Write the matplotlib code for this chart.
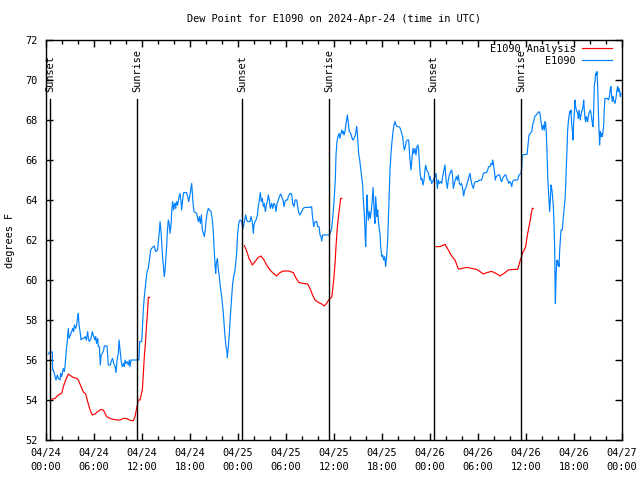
import numpy as np
import pandas as pd
import matplotlib
matplotlib.use('Agg')
import matplotlib.pyplot as plt
import matplotlib.dates as mdates
import matplotlib.transforms as mtransforms

# Hours since 2024-04-24 00:00 UTC and dew point (F)
blue_hours = [
    0.29, 0.46, 0.79, 0.83, 0.92, 1.13, 1.25, 1.42, 1.54, 1.75, 1.83, 1.96, 2.17, 2.29, 2.38, 2.5,
    2.67, 2.79, 2.88, 3.04, 3.21, 3.33, 3.46, 3.54, 3.71, 3.83, 3.96, 4.04, 4.13, 4.29, 4.38, 4.54,
    4.71, 4.88, 5.04, 5.21, 5.29, 5.42, 5.63, 5.79, 5.96, 6.13, 6.21, 6.33, 6.46, 6.54, 6.67, 6.79,
    6.88, 7.04, 7.21, 7.29, 7.63, 7.79, 8.04, 8.21, 8.33, 8.46, 8.63, 8.75, 8.88, 9.04, 9.13, 9.25,
    9.38, 9.54, 9.71, 9.79, 9.88, 10.0, 10.13, 10.29, 10.42, 10.5, 10.63, 10.83, 11.0, 11.625,
    11.71, 11.96, 12.04, 12.15, 12.29, 12.46, 12.63, 12.79, 12.92, 13.08, 13.21, 13.42, 13.54, 13.71,
    13.96, 14.04, 14.17, 14.25, 14.38, 14.54, 14.71, 14.79, 14.88, 14.96, 15.08, 15.17, 15.29, 15.42,
    15.5, 15.63, 15.71, 15.83, 15.96, 16.04, 16.13, 16.21, 16.33, 16.46, 16.63, 16.75, 16.88, 16.96,
    17.08, 17.21, 17.58, 17.71, 17.83, 17.96, 18.08, 18.21, 18.29, 18.38, 18.5, 18.83, 19.04, 19.17,
    19.29, 19.42, 19.54, 19.67, 19.79, 19.88, 20.0, 20.13, 20.29, 20.42, 20.63, 20.79, 20.92, 21.0,
    21.13, 21.21, 21.29, 21.42, 21.54, 21.67, 21.79, 21.96, 22.13, 22.25, 22.38, 22.5, 22.63, 22.67,
    22.79, 22.92, 23.04, 23.21, 23.33, 23.46, 23.63, 23.83, 23.96, 24.13, 24.29, 24.46, 24.63, 24.79,
    24.96, 25.08, 25.21, 25.5, 25.63, 25.79, 25.92, 26.0, 26.13, 26.25, 26.42, 26.54, 26.67, 26.79,
    26.92, 27.04, 27.17, 27.29, 27.42, 27.54, 27.67, 27.79, 27.92, 28.04, 28.21, 28.33, 28.5, 28.63,
    28.75, 28.88, 29.04, 29.17, 29.33, 29.46, 29.63, 29.75, 29.88, 30.0, 30.17, 30.29, 30.5, 30.71,
    30.83, 31.0, 31.13, 31.33, 31.46, 31.63, 31.75, 31.96, 32.13, 32.38, 33.0, 33.21, 33.29, 33.38,
    33.46, 33.63, 33.83, 33.96, 34.13, 34.25, 34.38, 34.46, 34.58, 35.42, 35.5, 35.71, 35.92, 36.04,
    36.17, 36.25, 36.375, 36.5, 36.625, 36.75, 36.875, 37.0, 37.08, 37.17, 37.25, 37.375, 37.5, 37.58,
    37.67, 37.75, 37.83, 37.92, 38.08, 38.21, 38.33, 38.5, 38.67, 38.75, 38.83, 38.92, 39.0, 39.08,
    39.21, 39.33, 39.46, 39.58, 39.67, 39.79, 39.875, 39.96, 40.04, 40.13, 40.21, 40.29, 40.42, 40.54,
    40.67, 40.79, 40.875, 40.96, 41.04, 41.125, 41.21, 41.29, 41.375, 41.46, 41.54, 41.67, 41.75, 41.83,
    41.92, 42.0, 42.08, 42.21, 42.33, 42.46, 42.58, 42.71, 42.83, 42.92, 43.0, 43.125, 43.25, 43.375,
    43.5, 43.625, 43.75, 43.875, 44.04, 44.21, 44.33, 44.46, 44.58, 44.67, 44.79, 44.92, 45.04, 45.17,
    45.33, 45.42, 45.5, 45.625, 45.75, 45.875, 46.0, 46.125, 46.25, 46.375, 46.5, 46.58, 46.67, 46.75,
    46.875, 47.0, 47.125, 47.25, 47.375, 47.46, 47.58, 47.71, 47.83, 47.96, 48.0, 48.21, 48.42, 48.625,
    48.75, 48.92, 49.04, 49.17, 49.33, 49.46, 49.58, 49.75, 49.875, 50.0, 50.17, 50.29, 50.42, 50.58,
    50.71, 50.83, 50.92, 51.04, 51.17, 51.29, 51.42, 51.54, 51.67, 51.79, 51.92, 52.04, 52.125, 52.21,
    52.33, 52.46, 52.58, 52.75, 52.875, 53.0, 53.125, 53.25, 53.42, 53.54, 53.67, 53.83, 53.96, 54.08,
    54.25, 54.46, 54.67, 54.875, 55.08, 55.21, 55.33, 55.5, 55.625, 55.75, 55.83, 55.92, 56.0, 56.08,
    56.17, 56.25, 56.33, 56.46, 56.58, 56.71, 56.83, 56.96, 57.08, 57.21, 57.375, 57.5, 57.58, 57.71,
    57.83, 58.0, 58.125, 58.21, 58.33, 58.5, 58.625, 58.96, 59.125, 59.375, 59.46, 59.54, 59.875, 60.125,
    60.21, 60.375, 60.54, 60.71, 60.875, 60.96, 61.125, 61.29, 61.46, 61.625, 61.75, 61.875, 62.04, 62.17,
    62.29, 62.375, 62.46, 62.54, 62.625, 62.71, 62.79, 62.875, 62.96, 63.04, 63.125, 63.21, 63.29, 63.42,
    63.5, 63.58, 63.625, 63.67, 63.71, 63.79, 63.875, 63.96, 64.04, 64.125, 64.21, 64.29, 64.375, 64.54,
    64.67, 64.79, 64.875, 64.96, 65.04, 65.125, 65.21, 65.29, 65.375, 65.46, 65.54, 65.625, 65.71, 65.79,
    65.875, 65.96, 66.04, 66.125, 66.21, 66.29, 66.375, 66.46, 66.54, 66.625, 66.71, 66.79, 66.875, 66.96,
    67.04, 67.125, 67.21, 67.29, 67.375, 67.46, 67.54, 67.625, 67.71, 67.79, 67.875, 67.96, 68.04, 68.125,
    68.21, 68.29, 68.375, 68.46, 68.54, 68.625, 68.71, 68.79, 68.875, 68.96, 69.04, 69.125, 69.21, 69.29,
    69.375, 69.46, 69.54, 69.625, 69.71, 69.79, 69.875, 70.04, 70.21, 70.29, 70.375, 70.46, 70.54, 70.625,
    70.71, 70.79, 70.875, 70.96, 71.04, 71.125, 71.21, 71.29, 71.375, 71.46, 71.54, 71.625, 71.71, 71.79,
    71.875,
]
blue_vals = [
    56.3, 56.4, 56.4, 55.5, 55.5, 55.17, 55.0, 55.25, 55.08, 55.0, 55.33, 55.17, 55.58, 55.42, 55.67, 56.33,
    57.0, 57.58, 57.08, 57.25, 57.42, 57.58, 57.42, 57.75, 57.58, 57.75, 58.17, 58.33, 57.75, 57.33, 57.0, 57.08,
    57.08, 57.17, 57.0, 57.42, 57.08, 56.92, 57.08, 57.42, 57.17, 57.0, 57.17, 56.83, 57.08, 56.67, 56.67, 55.75,
    56.25, 56.33, 56.5, 56.7, 56.7, 55.75, 55.75, 56.0, 56.08, 55.83, 55.67, 55.37, 56.0, 56.33, 57.0, 56.5,
    56.0, 55.67, 55.83, 55.67, 56.0, 55.83, 55.92, 55.75, 56.0, 55.67, 56.0, 56.0, 56.0, 56.0,
    56.92, 56.92, 57.5, 58.42, 59.17, 59.83, 60.42, 60.58, 61.0, 61.5, 61.58, 61.67, 61.7, 61.42,
    61.5, 61.92, 62.42, 62.92, 62.42, 61.33, 60.58, 60.17, 60.5, 61.0, 61.67, 62.42, 63.0, 62.75,
    62.33, 62.75, 63.42, 63.92, 63.5, 63.75, 63.83, 63.58, 63.92, 63.75, 64.17, 64.33, 63.92, 63.5,
    64.0, 64.37, 64.37, 64.17, 63.92, 64.17, 64.5, 64.83, 64.33, 63.83, 63.42, 63.33, 62.92, 63.17,
    62.83, 63.25, 62.5, 62.33, 62.17, 62.42, 62.92, 63.33, 63.58, 63.5, 63.42, 63.0, 62.42, 61.67,
    60.75, 60.33, 60.83, 61.08, 60.5, 60.17, 59.67, 59.17, 58.5, 57.83, 57.17, 56.67, 56.42, 56.12,
    56.67, 57.33, 58.17, 59.17, 59.83, 60.17, 60.5, 61.33, 62.33, 62.92, 63.0, 62.92, 62.58, 62.92,
    63.25, 63.0, 62.92, 62.92, 63.17, 62.92, 62.33, 62.75, 62.92, 63.0, 63.25, 63.67, 64.0, 64.37,
    63.92, 64.08, 63.67, 63.83, 63.42, 63.75, 63.92, 64.25, 64.0, 63.58, 63.83, 63.58, 63.83, 63.75,
    63.42, 63.83, 64.0, 64.17, 64.3, 64.17, 64.0, 63.67, 63.92, 64.0, 64.0, 64.17, 64.33, 64.3,
    63.83, 63.67, 64.0, 64.0, 63.67, 63.33, 63.25, 63.42, 63.58, 63.63, 63.63, 63.67, 63.25, 62.92,
    62.67, 62.92, 62.92, 62.67, 62.67, 62.25, 62.17, 61.95, 62.25, 62.25, 62.33, 62.58, 63.5, 64.17,
    65.08, 66.25, 66.92, 67.17, 67.33, 67.08, 67.33, 67.5, 67.33, 67.42, 67.25, 67.42, 67.83, 68.0,
    68.25, 68.0, 67.67, 67.42, 67.33, 67.17, 67.0, 67.08, 67.25, 67.42, 67.67, 67.33, 66.83, 66.33,
    66.0, 65.58, 65.17, 64.75, 64.0, 63.33, 62.42, 61.67, 63.0, 64.25, 63.5, 63.0, 63.42, 63.08,
    63.5, 64.0, 64.63, 64.0, 63.17, 62.83, 64.17, 63.67, 63.17, 63.5, 63.0, 62.5, 62.33, 61.67,
    61.33, 61.17, 61.25, 61.0, 61.17, 60.67, 61.17, 62.0, 63.5, 64.5, 65.5, 66.33, 66.92, 67.42,
    67.75, 67.92, 67.75, 67.67, 67.67, 67.63, 67.53, 67.33, 67.17, 66.83, 66.5, 66.67, 66.92, 67.0,
    67.0, 66.5, 66.0, 65.5, 66.08, 66.58, 66.33, 66.58, 66.25, 66.67, 66.75, 66.5, 65.92, 65.42,
    65.0, 65.08, 64.75, 65.0, 65.5, 65.75, 65.5, 65.42, 65.33, 65.0, 65.17, 64.83, 65.0, 65.17,
    65.33, 64.58, 65.0, 64.83, 64.92, 64.83, 65.17, 65.5, 65.75, 65.0, 64.58, 65.0, 65.25, 65.42,
    65.5, 65.17, 64.58, 64.83, 65.0, 65.17, 65.0, 65.25, 64.83, 64.75, 64.83, 64.67, 64.42, 64.2,
    64.5, 64.58, 64.75, 65.0, 65.17, 65.33, 65.0, 64.75, 64.58, 64.83, 64.92, 64.92, 64.92, 64.97,
    65.0, 65.0, 65.33, 65.37, 65.37, 65.5, 65.67, 65.67, 65.83, 65.75, 66.0, 65.83, 65.58, 65.33,
    65.0, 65.17, 65.17, 65.25, 65.25, 65.25, 65.0, 64.92, 65.08, 65.17, 65.25, 65.25, 65.08, 65.0,
    64.83, 64.92, 64.83, 64.67, 64.92, 65.0, 65.0, 65.0, 65.25, 65.33, 65.58, 66.25, 66.28, 66.28,
    66.58, 67.25, 67.33, 67.42, 67.83, 67.92, 68.2, 68.25, 68.33, 68.42, 68.33, 67.92, 67.5, 67.75,
    67.5, 67.92, 67.83, 67.33, 66.42, 65.25, 64.58, 64.0, 63.42, 64.0, 64.75, 64.58, 64.33, 63.67,
    62.75, 61.67, 60.17, 58.83, 59.5, 60.5, 61.0, 60.75, 60.92, 60.67, 61.5, 62.0, 62.5, 62.5,
    63.17, 63.67, 64.0, 64.67, 65.67, 66.5, 67.5, 67.92, 68.17, 68.42, 68.33, 68.5, 67.75, 67.5,
    67.0, 67.92, 68.33, 69.0, 68.67, 68.5, 68.42, 68.33, 68.08, 68.5, 68.25, 68.0, 68.25, 68.42,
    68.5, 68.67, 69.0, 68.5, 68.08, 67.92, 68.17, 68.08, 67.92, 68.17, 68.33, 68.42, 68.5, 68.33,
    68.08, 67.83, 67.67, 68.5, 69.75, 69.92, 70.33, 70.25, 70.42, 69.67, 68.5, 67.5, 66.75, 67.42,
    67.17, 67.33, 67.17, 67.42, 67.75, 68.58, 69.08, 69.08, 69.08, 69.0, 69.08, 69.25, 69.58, 69.67,
    69.17, 68.92, 69.17, 69.0, 68.92, 68.83, 69.0, 69.25, 69.5, 69.67, 69.42, 69.58, 69.42, 69.17,
    69.33,
]

# analysis series, nan marks the gaps between the three runs
red_hours = [
    0.63, 1.13, 1.54, 1.96, 2.17, 2.46, 2.79, 3.13, 3.42, 3.83, 4.04, 4.38, 4.67, 4.96, 5.21, 5.5,
    5.79, 6.13, 6.46, 6.88, 7.17, 7.58, 8.0, 8.42, 8.96, 9.25, 9.67, 10.0, 10.29, 10.63, 10.92, 11.13,
    11.33, 11.54, 11.75, 12.04, 12.17, 12.29, 12.46, 12.58, 12.71, 12.79, 12.96, 18.0,
    24.79, 25.04, 25.38, 25.79, 26.13, 26.54, 26.875, 27.21, 27.58, 28.0, 28.42, 28.83, 29.25, 29.67,
    30.29, 30.92, 31.21, 31.63, 32.17, 32.71, 33.0, 33.29, 33.63, 34.04, 34.46, 34.79, 35.08, 35.375,
    35.71, 35.83, 36.0, 36.13, 36.25, 36.42, 36.58, 36.71, 36.83, 36.96, 42.0,
    48.75, 49.25, 49.875, 50.29, 50.71, 51.125, 51.54, 51.75, 52.17, 52.67, 53.21, 53.83, 54.25, 54.67,
    55.08, 55.71, 56.25, 56.75, 57.25, 57.79, 58.42, 58.96, 59.125, 59.29, 59.46, 59.625, 59.79, 59.96,
    60.08, 60.21, 60.375, 60.5, 60.625, 60.79, 60.92,
]
red_vals = [
    54.03, 54.08, 54.25, 54.33, 54.67, 55.0, 55.3, 55.2, 55.13, 55.08, 55.0, 54.67, 54.4, 54.3, 53.92, 53.5,
    53.25, 53.3, 53.42, 53.53, 53.5, 53.17, 53.08, 53.03, 53.0, 53.0, 53.08, 53.08, 53.03, 52.97, 52.97, 53.17,
    53.58, 54.0, 54.0, 54.5, 55.33, 56.17, 57.0, 57.83, 58.5, 59.13, 59.13, np.nan,
    61.72, 61.5, 61.08, 60.75, 60.92, 61.13, 61.2, 61.03, 60.75, 60.5, 60.33, 60.2, 60.37, 60.45,
    60.45, 60.37, 60.12, 59.87, 59.83, 59.8, 59.58, 59.28, 59.0, 58.88, 58.8, 58.7, 58.83, 59.03,
    59.13, 59.5, 60.17, 60.83, 61.67, 62.67, 63.25, 63.67, 64.08, 64.08, np.nan,
    61.67, 61.67, 61.78, 61.5, 61.2, 61.0, 60.55, 60.55, 60.6, 60.63, 60.58, 60.53, 60.42, 60.3,
    60.37, 60.43, 60.33, 60.2, 60.33, 60.5, 60.53, 60.53, 60.75, 61.0, 61.17, 61.42, 61.5, 61.67,
    62.0, 62.33, 62.67, 62.92, 63.25, 63.58, 63.58,
]

sunset_hours = [0.54, 24.54, 48.46]
sunrise_hours = [11.41, 35.41, 59.41]

start = pd.Timestamp('2024-04-24 00:00')


def to_time(hours):
    return start + pd.to_timedelta(np.array(hours), unit='h')


plt.rcParams['font.family'] = 'DejaVu Sans Mono'
fs = 7.4

fig = plt.figure(figsize=(6.4, 4.8), dpi=100)
ax = fig.add_axes([46 / 640, 40 / 480, 576 / 640, 400 / 480])

ax.plot(to_time(red_hours), red_vals, color='#ff0000', lw=0.85, label='E1090 Analysis')
ax.plot(to_time(blue_hours), blue_vals, color='#0080ff', lw=0.85, label='E1090')

trans = mtransforms.blended_transform_factory(ax.transData, ax.transAxes)
for name, hrs in (('Sunset', sunset_hours), ('Sunrise', sunrise_hours)):
    for t in to_time(hrs):
        ax.axvline(t, ymin=0, ymax=0.8525, color='black', lw=1.0)
        ax.text(t, 0.87, name, transform=trans, rotation=90, ha='center', va='bottom',
                fontsize=fs)

ax.set_xlim(start, start + pd.Timedelta(hours=72))
ax.set_ylim(52, 72)
ax.set_yticks(np.arange(52, 73, 2))
ax.xaxis.set_major_locator(mdates.HourLocator(byhour=[0, 6, 12, 18]))
ax.xaxis.set_minor_locator(mdates.HourLocator(byhour=range(0, 24, 2)))
ax.xaxis.set_major_formatter(mdates.DateFormatter('%m/%d\n%H:%M'))
ax.tick_params(which='both', direction='in', top=True, right=True, width=1, labelsize=fs)
ax.tick_params(which='major', length=5)
ax.tick_params(which='minor', length=3)
ax.tick_params(axis='x', pad=6)
ax.tick_params(axis='y', pad=6)
for sp in ax.spines.values():
    sp.set_linewidth(1)

ax.legend(loc='upper right', bbox_to_anchor=(1 - 10 / 576, 1 - 4 / 400), frameon=False,
          markerfirst=False, fontsize=fs, handlelength=2.9, handletextpad=0.6,
          labelspacing=0.2, borderpad=0, borderaxespad=0)

fig.text(334 / 640, 1 - 19 / 480, 'Dew Point for E1090 on 2024-Apr-24 (time in UTC)',
         ha='center', va='center', fontsize=fs)
fig.text(10 / 640, 240 / 480, 'degrees F', rotation=90, ha='center', va='center', fontsize=fs)

fig.canvas.draw()
plt.setp(ax.get_xticklabels(), linespacing=1.4)

fig.savefig('out.png', dpi=100)
